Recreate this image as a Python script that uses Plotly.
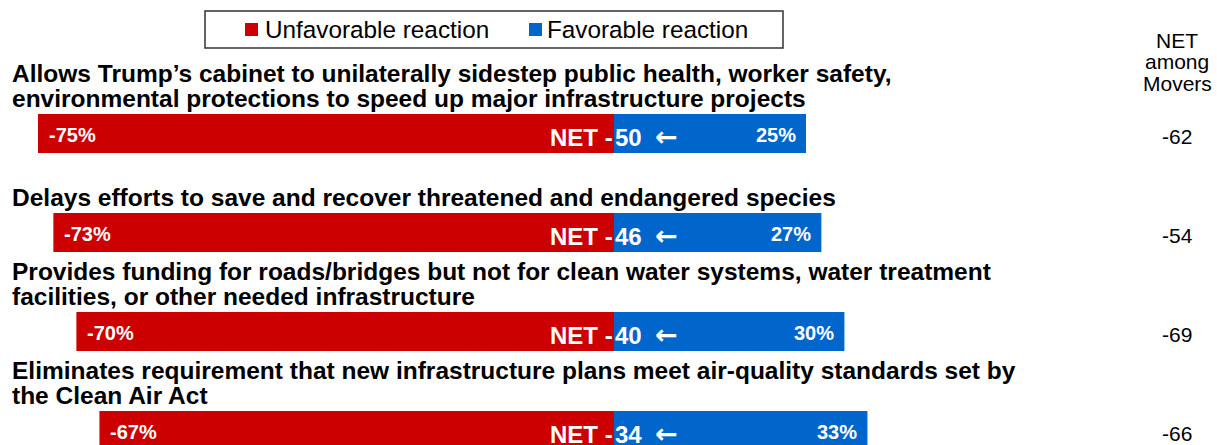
import plotly.graph_objects as go

# ---- data ----
statements = [
    ["Allows Trump’s cabinet to unilaterally sidestep public health, worker safety,",
     "environmental protections to speed up major infrastructure projects"],
    ["Delays efforts to save and recover threatened and endangered species"],
    ["Provides funding for roads/bridges but not for clean water systems, water treatment",
     "facilities, or other needed infrastructure"],
    ["Eliminates requirement that new infrastructure plans meet air-quality standards set by",
     "the Clean Air Act"],
]
unfavorable = [-75, -73, -70, -67]
favorable = [25, 27, 30, 33]
net_movers = [-62, -54, -69, -66]
series_names = ["Unfavorable reaction", "Favorable reaction"]
movers_header = ["NET", "among", "Movers"]

RED = "#CC0000"
BLUE = "#0066CC"
FONT = "Liberation Sans, Arial, sans-serif"

W, H = 1217, 445


def px(x):  # page x -> paper
    return x / W


def py(y):  # page y -> paper
    return 1 - y / H


zero_px = 614
px_per_unit = 7.68
x_range = [-zero_px / px_per_unit, (W - zero_px) / px_per_unit]
row0_px, row_step = 133.5, 99.0
y_range = [(H - row0_px) / row_step, -row0_px / row_step]

cats = [f"r{i}" for i in range(len(statements))]

fig = go.Figure()
fig.add_trace(go.Bar(y=cats, x=unfavorable, orientation="h", name=series_names[0],
                     marker=dict(color=RED, line=dict(width=0)), width=0.394, showlegend=False))
fig.add_trace(go.Bar(y=cats, x=favorable, orientation="h", name=series_names[1],
                     marker=dict(color=BLUE, line=dict(width=0)), width=0.394, showlegend=False))

ann = []
for i, c in enumerate(cats):
    lines = statements[i]
    n = len(lines)
    for j, line in enumerate(lines):
        ann.append(dict(x=0, xref="paper", xshift=10, xanchor="left", y=c, yref="y",
                        yanchor="middle", yshift=35.5 + 25 * (n - 1 - j), text=line,
                        showarrow=False, align="left",
                        font=dict(family=FONT, size=24.5, color="black", weight="bold")))
    ann.append(dict(x=unfavorable[i], xref="x", xanchor="left", xshift=9, y=c, yref="y",
                    yshift=-1, text=f"{unfavorable[i]}%", showarrow=False,
                    font=dict(family=FONT, size=20, color="white", weight="bold")))
    ann.append(dict(x=favorable[i], xref="x", xanchor="right", xshift=-8, y=c, yref="y",
                    yshift=-1, text=f"{favorable[i]}%", showarrow=False,
                    font=dict(family=FONT, size=20, color="white", weight="bold")))
    net = unfavorable[i] + favorable[i]
    ann.append(dict(x=0, xref="x", xanchor="right", xshift=1, y=c, yref="y", yshift=-3.5,
                    text="NET -", showarrow=False,
                    font=dict(family=FONT, size=24, color="white", weight="bold")))
    ann.append(dict(x=0, xref="x", xanchor="left", xshift=-1, y=c, yref="y", yshift=-3.5,
                    text=f"{abs(net)}", showarrow=False,
                    font=dict(family=FONT, size=24, color="white", weight="bold")))
    ann.append(dict(x=0, xref="x", xanchor="left", xshift=39, y=c, yref="y", yshift=-3,
                    text="←", showarrow=False,
                    font=dict(family="DejaVu Sans", size=27, color="white", weight="bold")))
    ann.append(dict(x=px(1177), xref="paper", xanchor="center", y=c, yref="y", yshift=-2.5,
                    text=str(net_movers[i]), showarrow=False,
                    font=dict(family=FONT, size=21, color="black")))

for j, t in enumerate(movers_header):
    ann.append(dict(x=px(1177), xref="paper", xanchor="center", y=py(41 + 21 * j), yref="paper",
                    yanchor="middle", text=t, showarrow=False,
                    font=dict(family=FONT, size=21, color="black")))

# legend (manual)
ann.append(dict(x=px(263), xref="paper", xanchor="left", y=py(30), yref="paper",
                yanchor="middle", text=series_names[0], showarrow=False,
                font=dict(family=FONT, size=24.3, color="black")))
ann.append(dict(x=px(545), xref="paper", xanchor="left", y=py(30), yref="paper",
                yanchor="middle", text=series_names[1], showarrow=False,
                font=dict(family=FONT, size=24.3, color="black")))

shapes = [
    dict(type="rect", xref="paper", yref="paper", x0=px(205), x1=px(783),
         y0=py(48), y1=py(11), line=dict(color="#333333", width=1.5), fillcolor="white"),
    dict(type="rect", xref="paper", yref="paper", x0=px(245), x1=px(258),
         y0=py(36), y1=py(23), line=dict(width=0), fillcolor=RED),
    dict(type="rect", xref="paper", yref="paper", x0=px(529), x1=px(542),
         y0=py(36), y1=py(23), line=dict(width=0), fillcolor=BLUE),
]

fig.update_layout(
    width=W, height=H, margin=dict(l=0, r=0, t=0, b=0),
    paper_bgcolor="white", plot_bgcolor="white",
    barmode="relative", showlegend=False,
    xaxis=dict(range=x_range, visible=False, fixedrange=True),
    yaxis=dict(range=y_range, visible=False, type="category", categoryorder="array",
               categoryarray=cats, fixedrange=True),
    annotations=ann, shapes=shapes,
)

fig.write_html(
    "out.html",
    config={"displayModeBar": False},
    post_script="document.body.style.margin='0';document.body.style.overflow='hidden';",
)
